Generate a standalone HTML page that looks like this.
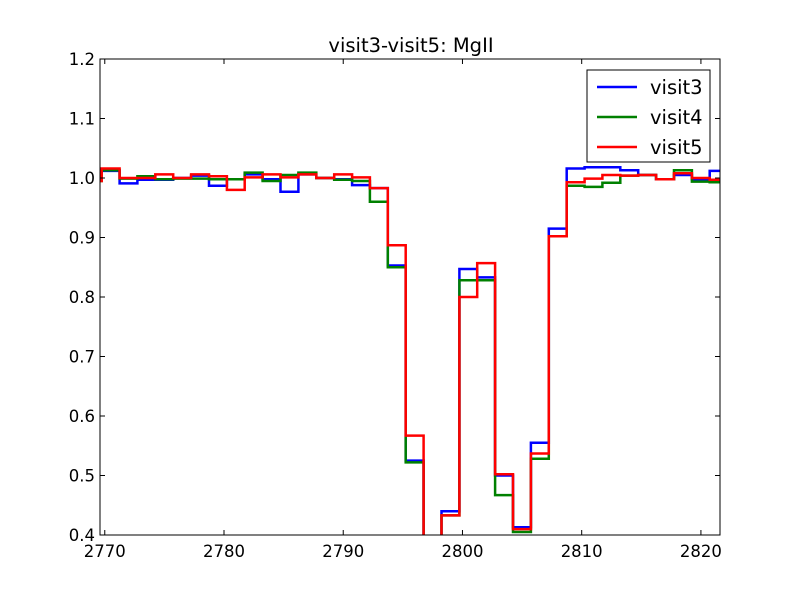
<!DOCTYPE html>
<html><head><meta charset="utf-8"><style>
body{margin:0;background:#fff;width:800px;height:595px;overflow:hidden}
text{font-family:"DejaVu Sans","Liberation Sans",sans-serif}
</style></head><body>
<svg id="chart" width="800" height="595" xmlns="http://www.w3.org/2000/svg"></svg>
<script>
const binStart = 2768.24;
const binWidth = 1.5;
const visit3 = [1.008,1.012,0.991,0.997,0.997,1.000,1.004,0.987,0.998,1.006,0.998,0.977,1.006,1.000,0.998,0.988,0.983,0.853,0.525,0.30,0.440,0.847,0.833,0.500,0.413,0.555,0.915,1.016,1.018,1.018,1.013,1.005,0.998,1.005,0.998,1.012];
const visit4 = [0.995,1.013,0.999,1.003,0.998,0.999,0.999,0.998,0.998,1.009,0.995,1.005,1.009,1.000,0.997,0.995,0.960,0.850,0.522,0.30,0.433,0.828,0.828,0.467,0.405,0.528,0.902,0.987,0.985,0.992,1.004,1.005,0.998,1.013,0.994,0.993];
const visit5 = [0.995,1.016,1.000,1.000,1.006,1.000,1.006,1.003,0.980,1.001,1.006,1.001,1.006,1.000,1.006,1.001,0.983,0.887,0.567,0.30,0.433,0.800,0.857,0.502,0.410,0.537,0.902,0.993,0.999,1.005,1.004,1.005,0.998,1.008,1.000,0.997];
const seriesNames = ["visit3","visit4","visit5"];
const xTicks = [2770,2780,2790,2800,2810,2820];
const yTicks = [0.4,0.5,0.6,0.7,0.8,0.9,1.0,1.1,1.2];

const L=100,R=720,T=59,B=535, xmin=2769.6, xmax=2821.6, ymin=0.4, ymax=1.2;
const sx=v=>L+(v-xmin)/(xmax-xmin)*(R-L);
const sy=v=>B-(v-ymin)/(ymax-ymin)*(B-T);
const NS="http://www.w3.org/2000/svg";
const svg=document.getElementById('chart');
function mk(tag,attrs,parent){const e=document.createElementNS(NS,tag);for(const k in attrs)e.setAttribute(k,attrs[k]);(parent||svg).appendChild(e);return e;}

const defs=mk('defs',{});const cp=mk('clipPath',{id:'clip'},defs);mk('rect',{x:L,y:T,width:R-L,height:B-T},cp);

const colors=['#0000ff','#008000','#ff0000'];
[visit3,visit4,visit5].forEach((vals,si)=>{
  let d='';
  vals.forEach((v,i)=>{
    const x0=sx(binStart+i*binWidth), x1=sx(binStart+(i+1)*binWidth), y=sy(v);
    d+=(i===0?'M':'L')+x0.toFixed(1)+','+y.toFixed(1)+'L'+x1.toFixed(1)+','+y.toFixed(1);
  });
  const p=mk('path',{d:d,fill:'none',stroke:colors[si],'stroke-width':2.5,'clip-path':'url(#clip)'});
  
  
});

const frame=mk('rect',{x:L,y:T,width:R-L,height:B-T,fill:'none',stroke:'#000','stroke-width':1});



xTicks.forEach(t=>{
  const x=sx(t);
  mk('line',{x1:x,x2:x,y1:B,y2:B-5,stroke:'#000'});
  mk('line',{x1:x,x2:x,y1:T,y2:T+5,stroke:'#000'});
  const tx=mk('text',{x:x,y:B+22,'text-anchor':'middle','font-size':16.5},null);
  tx.textContent=t;
  
  
});
yTicks.forEach(t=>{
  const y=sy(t);
  mk('line',{x1:L,x2:L+5,y1:y,y2:y,stroke:'#000'});
  mk('line',{x1:R,x2:R-5,y1:y,y2:y,stroke:'#000'});
  const ty=mk('text',{x:L-5,y:y+6,'text-anchor':'end','font-size':16.5});
  ty.textContent=t.toFixed(1);
  
  
});

const title=mk('text',{x:411,y:52,'text-anchor':'middle','font-size':19.5});
title.textContent='visit3-visit5: MgII';



const lg=mk('g',{});


mk('rect',{x:587,y:70,width:123,height:92,fill:'#fff',stroke:'#000'},lg);
seriesNames.forEach((n,i)=>{
  const y=87+i*30;
  const ln=mk('line',{x1:597,x2:637,y1:y,y2:y,stroke:colors[i],'stroke-width':2.5},lg);
  
  
  const t=mk('text',{x:650,y:y+7,'font-size':19.5},lg);
  t.textContent=n;
  
  
});
</script>
</body></html>
